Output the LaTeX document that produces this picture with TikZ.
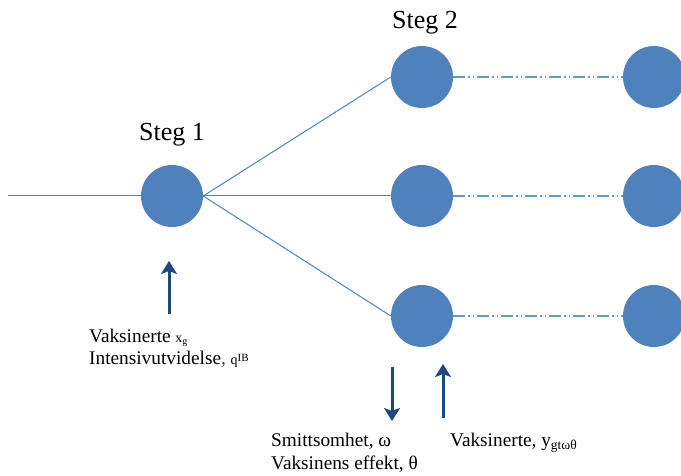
\documentclass[tikz,border=0pt]{standalone}
\usepackage{fontspec}
\setmainfont{Liberation Serif}
\newfontfamily\tnr{Liberation Serif}
\usetikzlibrary{arrows.meta}
\definecolor{circblue}{RGB}{79,129,189}
\definecolor{arrblue}{RGB}{31,73,125}
\tikzset{
  dot/.style={circle,fill=circblue,draw=none,minimum size=62pt,inner sep=0pt},
  link/.style={draw=circblue,line width=1pt},
  dashlink/.style={draw=circblue!85,line width=1.2pt,dash pattern=on 12pt off 3pt on 1.5pt off 3pt on 1.5pt off 3pt},
  bigarrow/.style={draw=arrblue,line width=3pt,-{Stealth[length=13pt,width=16pt,inset=3pt]}},
  steglabel/.style={font=\tnr\fontsize{26}{30}\selectfont,inner sep=0pt,anchor=base},
  txt/.style={font=\tnr\fontsize{19.3}{23}\selectfont,inner sep=0pt,anchor=base west}
}
\newcommand{\smallsz}{\fontsize{14}{14}\selectfont}
\newcommand{\tinysz}{\fontsize{10}{10}\selectfont}
\begin{document}
\begin{tikzpicture}[x=1pt,y=-1pt]
\useasboundingbox (0,0) rectangle (681,476);
\clip (0,0) rectangle (681,476);
% circles
\node[dot] (s1) at (172,196) {};
\node[dot] (a2) at (422,77) {};
\node[dot] (b2) at (422,196) {};
\node[dot] (c2) at (422,316) {};
\node[dot] (a3) at (654,77) {};
\node[dot] (b3) at (654,196) {};
\node[dot] (c3) at (654,316) {};
\coordinate (start) at (8,196);
% labels
\node[steglabel] (l1) at (172,141) {Steg 1};
\node[steglabel] (l2) at (425,29) {Steg 2};
% connectors
\draw[link] (start) -- (s1.west);
\draw[link] (s1.east) -- (a2.west);
\draw[link] (s1.east) -- (b2.west);
\draw[link] (s1.east) -- (c2.west);
\draw[dashlink] (a2.east) -- (a3.west);
\draw[dashlink] (b2.east) -- (b3.west);
\draw[dashlink] (c2.east) -- (c3.west);
% arrows
\coordinate (u1a) at (169,314);
\coordinate (u1b) at (169,261);
\coordinate (d2a) at (392,367);
\coordinate (d2b) at (392,421);
\coordinate (u3a) at (443,418);
\coordinate (u3b) at (443,364);
\draw[bigarrow] (u1a) -- (u1b);
\draw[bigarrow] (d2a) -- (d2b);
\draw[bigarrow] (u3a) -- (u3b);
% texts
\node[txt] (t1) at (89,342) {Vaksinerte {\smallsz x\raisebox{-2pt}{\tinysz g}}};
\node[txt] (t2) at (89,364) {Intensivutvidelse{\color{arrblue},} {\smallsz q\raisebox{3pt}{\fontsize{11}{11}\selectfont IB}}};
\node[txt] (t3) at (271,446) {Smittsomhet, ω};
\node[txt] (t4) at (271,469) {Vaksinens effekt, θ};
\node[txt] (t5) at (450,446) {Vaksinerte, y{\fontsize{13.5}{13.5}\selectfont\raisebox{-3pt}{gtωθ}}};
\end{tikzpicture}
\end{document}
